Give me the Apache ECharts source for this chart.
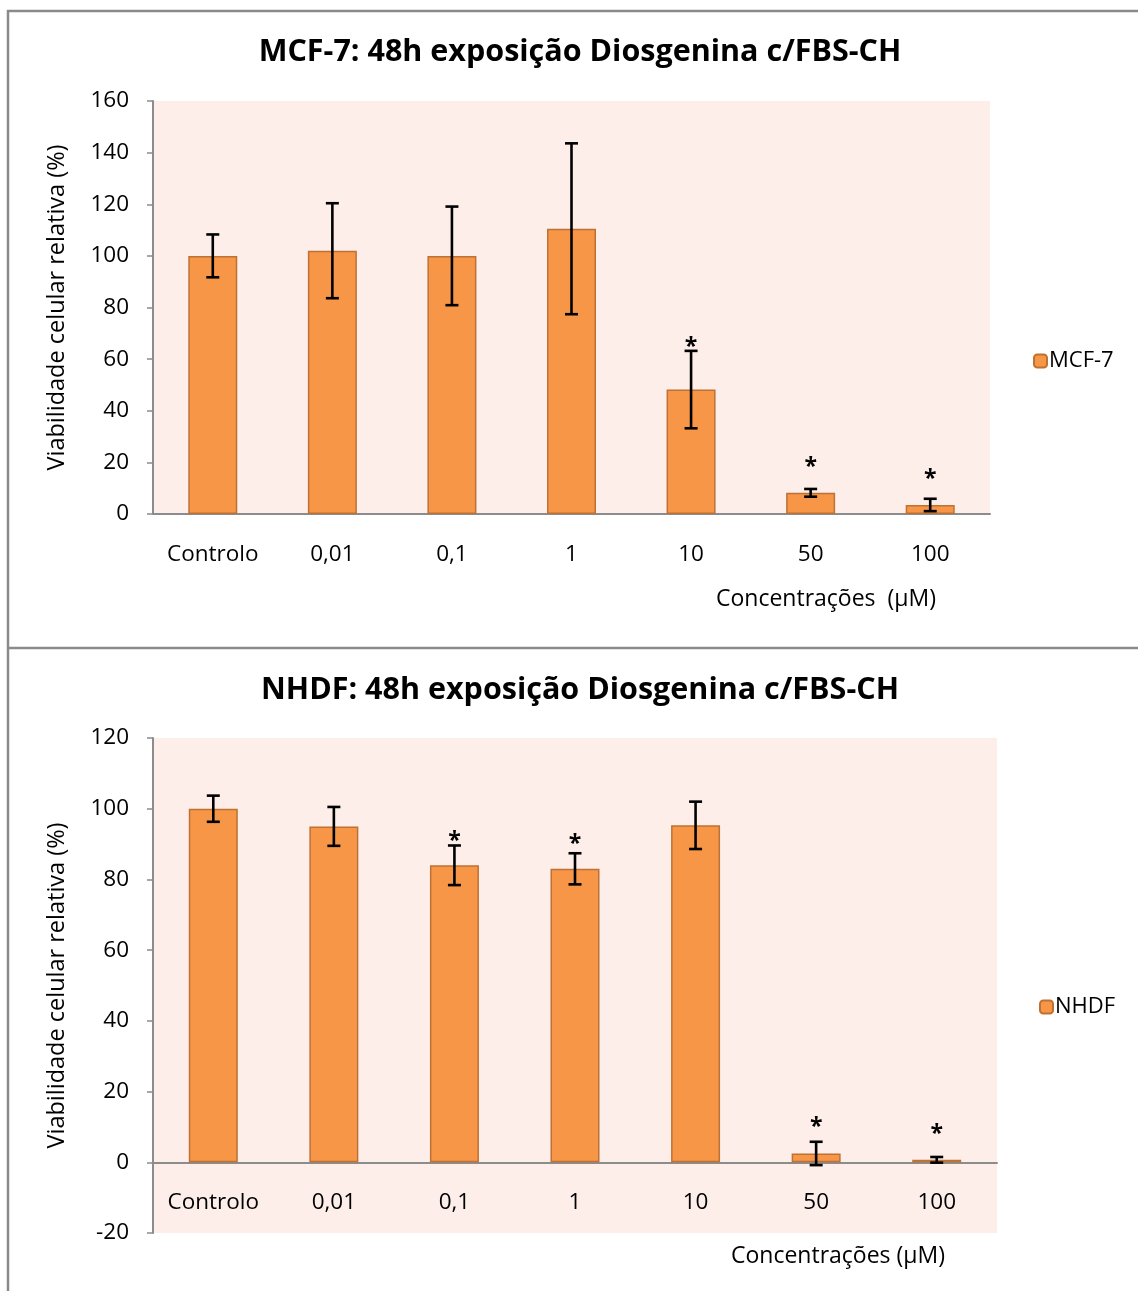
<!DOCTYPE html>
<html><head><meta charset="utf-8">
<style>html,body{margin:0;padding:0;background:#fff}#c{width:1138px;height:1291px}</style>
<script src="https://cdn.jsdelivr.net/npm/echarts@6/dist/echarts.min.js"></script>
</head><body><div id="c"></div>
<script>
const categories = ['Controlo','0,01','0,1','1','10','50','100'];
// MCF-7
const mcfValues = [100, 102, 100, 110.5, 48.2, 8.2, 3.5];
const mcfErrors = [8.3, 18.4, 19.1, 33.1, 15.0, 1.5, 2.4];
const mcfStarAt = [null, null, null, null, 66.8, 20.3, 15.7];
const mcfTicks = {min: 0, max: 160, interval: 20};
// NHDF
const nhdfValues = [100, 95, 84, 83, 95.3, 2.5, 0.7];
const nhdfErrors = [3.7, 5.5, 5.6, 4.4, 6.7, 3.3, 0.8];
const nhdfStarAt = [null, null, 92.5, 91.5, null, 11.5, 9.6];
const nhdfTicks = {min: -20, max: 120, interval: 20};

const FONT = 'Open Sans';
const orange = '#F79646', orangeBorder = '#BE7135', axisGray = '#8c8c8c', plotBg = '#FDEEEA';

function errData(vals, errs, stars){
  return vals.map((v,i)=>[i, v-errs[i], v+errs[i], stars[i]==null ? NaN : stars[i]]);
}
function renderErr(params, api){
  const i = api.value(0);
  const lo = api.coord([i, api.value(1)]);
  const hi = api.coord([i, api.value(2)]);
  const cap = 6.5;
  const st = {stroke:'#000', lineWidth:2.6};
  const children = [
    {type:'line', shape:{x1:hi[0], y1:hi[1], x2:lo[0], y2:lo[1]}, style:st},
    {type:'line', shape:{x1:hi[0]-cap, y1:hi[1], x2:hi[0]+cap, y2:hi[1]}, style:st},
    {type:'line', shape:{x1:lo[0]-cap, y1:lo[1], x2:lo[0]+cap, y2:lo[1]}, style:st}
  ];
  const s = api.value(3);
  if (!isNaN(s)) {
    const p = api.coord([i, s]);
    children.push({type:'text', style:{text:'*', x:p[0], y:p[1]+6, align:'center', verticalAlign:'middle', font:'bold 23px "'+FONT+'"', fill:'#000'}});
  }
  return {type:'group', children};
}

const chart = echarts.init(document.getElementById('c'), null, {renderer:'canvas'});
const yAxisCommon = {
  type:'value',
  axisLine:{show:true, lineStyle:{color:axisGray, width:2}},
  axisTick:{show:true, length:6, lineStyle:{color:axisGray, width:1.5}},
  splitLine:{show:false},
  axisLabel:{color:'#000', fontSize:22.5, fontFamily:FONT, margin:24},
  name:'Viabilidade celular relativa (%)', nameLocation:'middle', nameRotate:90, nameGap:84,
  nameTextStyle:{color:'#000', fontSize:23.5, fontFamily:FONT}
};
const xAxisCommon = {
  type:'category', data:categories,
  axisTick:{show:false},
  axisLabel:{color:'#000', fontSize:22.5, fontFamily:FONT, interval:0}
};
chart.setOption({
  animation:false,
  backgroundColor:'#fff',
  title:[
    {text:'MCF-7: 48h exposição Diosgenina c/FBS-CH', left:575, top:32, textAlign:'center',
     textStyle:{fontSize:30.5, fontWeight:'bold', fontFamily:FONT, color:'#000'}},
    {text:'NHDF: 48h exposição Diosgenina c/FBS-CH', left:575, top:670, textAlign:'center',
     textStyle:{fontSize:30.5, fontWeight:'bold', fontFamily:FONT, color:'#000'}}
  ],
  legend:[
    {data:['MCF-7'], left:1028, top:345, itemWidth:13, itemHeight:13,
     textStyle:{fontSize:22, fontFamily:FONT, color:'#000', padding:[0,0,0,-3]}},
    {data:['NHDF'], left:1034, top:991, itemWidth:13, itemHeight:13,
     textStyle:{fontSize:22, fontFamily:FONT, color:'#000', padding:[0,0,0,-3]}}
  ],
  grid:[
    {left:153, top:101, width:837, height:413, show:true, backgroundColor:plotBg, borderWidth:0},
    {left:153, top:738, width:844, height:495, show:true, backgroundColor:plotBg, borderWidth:0}
  ],
  xAxis:[
    Object.assign({gridIndex:0, axisLine:{show:true, onZero:false, lineStyle:{color:axisGray, width:2}}}, xAxisCommon,
      {axisLabel:Object.assign({}, xAxisCommon.axisLabel, {margin:29})}),
    Object.assign({gridIndex:1, offset:-70, axisLine:{show:true, onZero:false, lineStyle:{color:axisGray, width:2}}}, xAxisCommon,
      {axisLabel:Object.assign({}, xAxisCommon.axisLabel, {margin:28})})
  ],
  yAxis:[
    Object.assign({gridIndex:0}, yAxisCommon, mcfTicks),
    Object.assign({gridIndex:1}, yAxisCommon, nhdfTicks)
  ],
  series:[
    {name:'MCF-7', type:'bar', xAxisIndex:0, yAxisIndex:0, data:mcfValues, barWidth:49,
     itemStyle:{color:orange, borderColor:orangeBorder, borderWidth:1.5}},
    {type:'custom', xAxisIndex:0, yAxisIndex:0, renderItem:renderErr, data:errData(mcfValues, mcfErrors, mcfStarAt), z:5},
    {name:'NHDF', type:'bar', xAxisIndex:1, yAxisIndex:1, data:nhdfValues, barWidth:49,
     itemStyle:{color:orange, borderColor:orangeBorder, borderWidth:1.5}},
    {type:'custom', xAxisIndex:1, yAxisIndex:1, renderItem:renderErr, data:errData(nhdfValues, nhdfErrors, nhdfStarAt), z:5}
  ],
  graphic:[
    {type:'line', shape:{x1:7, y1:11, x2:1138, y2:11}, style:{stroke:'#8a8a8a', lineWidth:2.5}},
    {type:'line', shape:{x1:8, y1:10, x2:8, y2:1291}, style:{stroke:'#8a8a8a', lineWidth:2.5}},
    {type:'line', shape:{x1:7, y1:648, x2:1138, y2:648}, style:{stroke:'#8a8a8a', lineWidth:2.5}},
    {type:'text', style:{text:'Concentrações  (µM)', x:826, y:599, align:'center', verticalAlign:'middle', font:'23px "'+FONT+'"', fill:'#000'}},
    {type:'text', style:{text:'Concentrações (µM)', x:838, y:1256, align:'center', verticalAlign:'middle', font:'23px "'+FONT+'"', fill:'#000'}}
  ]
});
</script></body></html>
